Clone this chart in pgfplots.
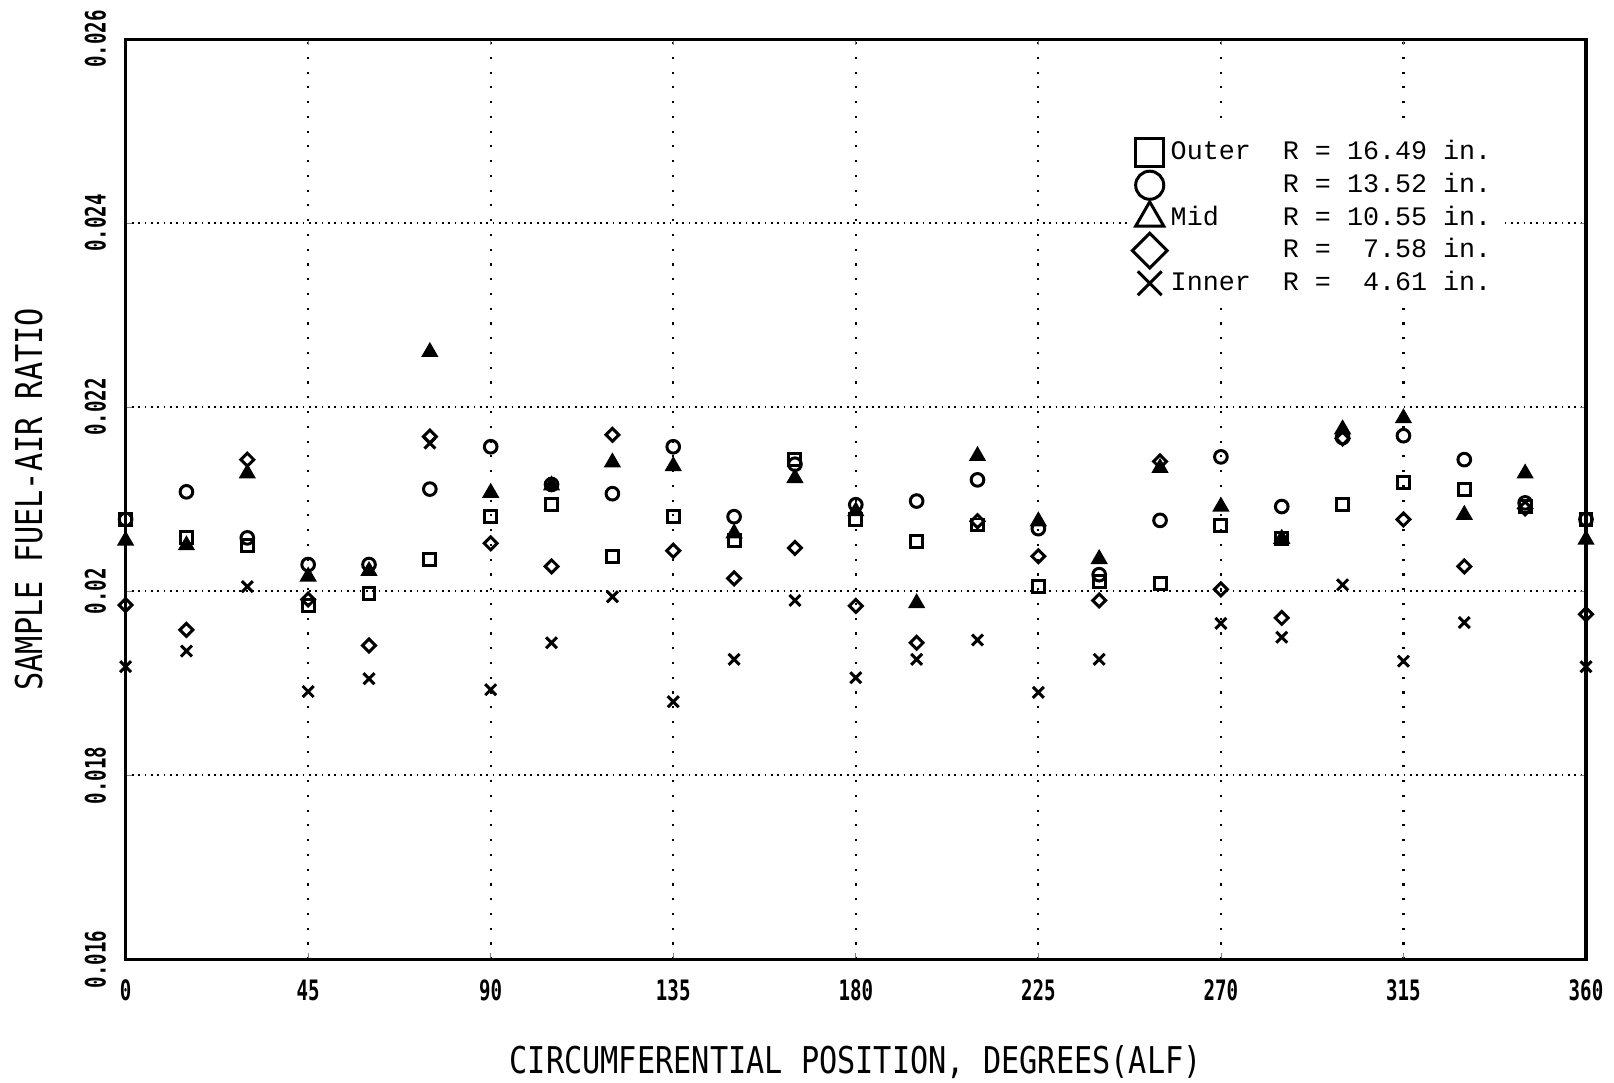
\documentclass[border=0pt]{standalone}
\usepackage{pgfplots}
\pgfplotsset{compat=1.18}
\usepackage{fontspec}
\newfontfamily\tickfont[FakeStretch=0.68]{DejaVu Sans Mono}
\newfontfamily\labfont[FakeStretch=0.82]{DejaVu Sans Mono}
\newfontfamily\legfont{Liberation Mono}
\begin{document}
\begin{tikzpicture}
\begin{axis}[
  width=14.604cm, height=9.202cm, scale only axis,
  xmin=0, xmax=360, ymin=0.016, ymax=0.026,
  xtick={0,45,...,360},
  xticklabels={0,45,90,135,180,225,270,315,360},
  ytick={0.016,0.018,0.020,0.022,0.024,0.026},
  yticklabels={0.016,0.018,0.02,0.022,0.024,0.026},
  scaled y ticks=false,
  major tick length=0.06cm,
  axis line style={line width=0.9pt},
  grid=major,
  x grid style={black, line width=0.6pt, dash pattern=on 0.6pt off 3.6pt},
  y grid style={black, line width=0.5pt, dash pattern=on 0.5pt off 1.3pt},
  xticklabel style={font=\tickfont\bfseries\fontsize{8}{9}\selectfont, anchor=base, yshift=-0.41cm},
  yticklabel style={font=\tickfont\bfseries\fontsize{8}{9}\selectfont, xshift=-0.2cm, rotate=90, anchor=base},
  xlabel={CIRCUMFERENTIAL POSITION, DEGREES(ALF)},
  ylabel={SAMPLE FUEL-AIR RATIO},
  label style={font=\labfont\fontsize{10.5}{12}\selectfont},
  xlabel style={at={(axis description cs:0.5,-0.124)}, anchor=base},
  ylabel style={at={(axis description cs:-0.0572,0.5)}, anchor=base, rotate=0},
  legend style={at={(axis description cs:0.6862,0.9021)}, anchor=north west,
    inner sep=0.07cm, outer sep=0pt, draw=none, fill=white, row sep=0pt,
    font=\legfont\fontsize{7.6}{9}\selectfont,
    nodes={inner xsep=0.04cm, inner ysep=0pt, text height=0.235cm, text depth=0.092cm},
    cells={anchor=west}},
  legend image code/.code={\path[draw=none,fill=none] (0cm,-0.1cm) rectangle (0.32cm,0.1cm); \draw[overlay,#1] plot coordinates {(0.15cm,0cm)};},
  every axis plot/.append style={only marks, black, line width=0.85pt},
]
\addplot[mark=square, mark size=1.7pt, legend image post style={mark size=4pt}] table {
x y
0 0.02078
15 0.02058
30 0.02050
45 0.01984
60 0.01998
75 0.02034
90 0.02081
105 0.02094
120 0.02038
135 0.02081
150 0.02055
165 0.02143
180 0.02078
195 0.02054
210 0.02072
225 0.02005
240 0.02011
255 0.02008
270 0.02071
285 0.02057
300 0.02094
315 0.02118
330 0.02111
345 0.02092
360 0.02078
};
\addlegendentry{\makebox[4.2em][l]{Outer}R = 16.49 in.}
\addplot[mark=o, mark size=1.8pt, legend image post style={mark size=4pt}] table {
x y
0 0.02078
15 0.02108
30 0.02058
45 0.02029
60 0.02029
75 0.02111
90 0.02157
105 0.02116
120 0.02106
135 0.02157
150 0.02081
165 0.02138
180 0.02094
195 0.02098
210 0.02121
225 0.02068
240 0.02018
255 0.02077
270 0.02146
285 0.02092
300 0.02167
315 0.02169
330 0.02143
345 0.02096
360 0.02078
};
\addlegendentry{\makebox[4.2em][l]{}R = 13.52 in.}
\addplot[mark=triangle*, mark size=2pt, legend image post style={mark=triangle, mark size=4.6pt}] table {
x y
0 0.02055
15 0.02050
30 0.02128
45 0.02016
60 0.02022
75 0.02260
90 0.02107
105 0.02115
120 0.02140
135 0.02136
150 0.02063
165 0.02123
180 0.02087
195 0.01987
210 0.02147
225 0.02076
240 0.02035
255 0.02134
270 0.02092
285 0.02057
300 0.02176
315 0.02188
330 0.02083
345 0.02128
360 0.02056
};
\addlegendentry{\makebox[4.2em][l]{Mid}R = 10.55 in.}
\addplot[mark=square, mark options={rotate=45}, mark size=1.3pt, legend image post style={mark size=3.5pt}] table {
x y
0 0.01985
15 0.01958
30 0.02143
45 0.01991
60 0.01941
75 0.02168
90 0.02052
105 0.02027
120 0.02170
135 0.02044
150 0.02014
165 0.02047
180 0.01984
195 0.01944
210 0.02076
225 0.02038
240 0.01990
255 0.02141
270 0.02002
285 0.01971
300 0.02166
315 0.02078
330 0.02027
345 0.02090
360 0.01975
};
\addlegendentry{\makebox[4.2em][l]{}R = \hphantom{1}7.58 in.}
\addplot[mark=x, mark size=2.2pt, legend image post style={mark size=4.8pt}] table {
x y
0 0.01918
15 0.01935
30 0.02005
45 0.01891
60 0.01905
75 0.02161
90 0.01893
105 0.01944
120 0.01994
135 0.01880
150 0.01926
165 0.01990
180 0.01906
195 0.01926
210 0.01947
225 0.01890
240 0.01926
270 0.01965
285 0.01950
300 0.02007
315 0.01924
330 0.01966
360 0.01918
};
\addlegendentry{\makebox[4.2em][l]{Inner}R = \hphantom{1}4.61 in.}
\end{axis}
\pgfresetboundingbox
\path[use as bounding box] ([shift={(-1.256cm,-1.227cm)}]current axis.south west) rectangle ([shift={(0.28cm,0.391cm)}]current axis.north east);
\end{tikzpicture}
\end{document}
